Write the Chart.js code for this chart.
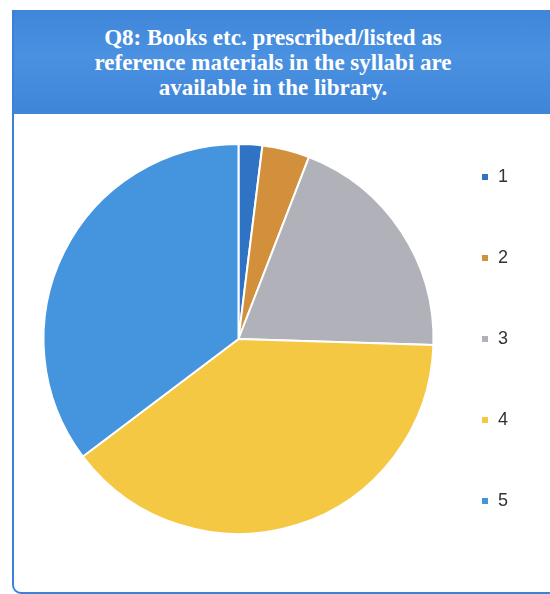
<!DOCTYPE html>
<html>
<head>
<meta charset="utf-8">
<script src="https://cdn.jsdelivr.net/npm/chart.js@4.4.0/dist/chart.umd.min.js"></script>
<style>
  html, body { margin: 0; padding: 0; background: #ffffff; }
  body { width: 550px; height: 594px; position: relative; overflow: hidden; }
  #frame {
    position: absolute; left: 12px; top: 10px; width: 545px; height: 584px;
    border: 2px solid #3b82d6; border-radius: 0 0 9px 9px; box-sizing: border-box;
  }
  #banner {
    position: absolute; left: 14px; top: 10px; width: 536px; height: 104px;
    background: linear-gradient(180deg, #3f86da 0%, #4b91e1 45%, #3e85d9 100%);
    z-index: 2;
  }
  #title {
    position: absolute; left: 0; top: 15px; width: 518px; text-align: center;
    font-family: "Liberation Serif", "DejaVu Serif", serif; font-weight: bold;
    font-size: 23px; line-height: 25px; color: #ffffff;
  }
  #wrap { position: absolute; left: 0; top: 0; width: 550px; height: 594px; z-index: 1; }
</style>
</head>
<body>
<div id="frame"></div>
<div id="wrap"><canvas id="c" width="550" height="594"></canvas></div>
<div id="banner"><div id="title">Q8: Books etc. prescribed/listed as<br>reference materials in the syllabi are<br>available in the library.</div></div>
<script>
const categories = ["1", "2", "3", "4", "5"];
const responses = [1, 2, 10, 20, 18];
const sliceColors = ["#2f74c4", "#d2903c", "#b1b2b9", "#f5c843", "#4594de"];

new Chart(document.getElementById("c"), {
  type: "pie",
  data: {
    labels: categories,
    datasets: [{
      data: responses,
      backgroundColor: sliceColors,
      borderColor: "#ffffff",
      borderWidth: 2,
      radius: 195
    }]
  },
  options: {
    responsive: false,
    animation: false,
    layout: { padding: { left: 59, right: 32, top: 84, bottom: 0 } },
    plugins: {
      title: { display: false },
      tooltip: { enabled: false },
      legend: {
        position: "right",
        labels: {
          boxWidth: 8,
          boxHeight: 8,
          padding: 63,
          color: "#333333",
          font: { family: "'Liberation Sans', Arial, sans-serif", size: 18 }
        }
      }
    }
  }
});
</script>
</body>
</html>
